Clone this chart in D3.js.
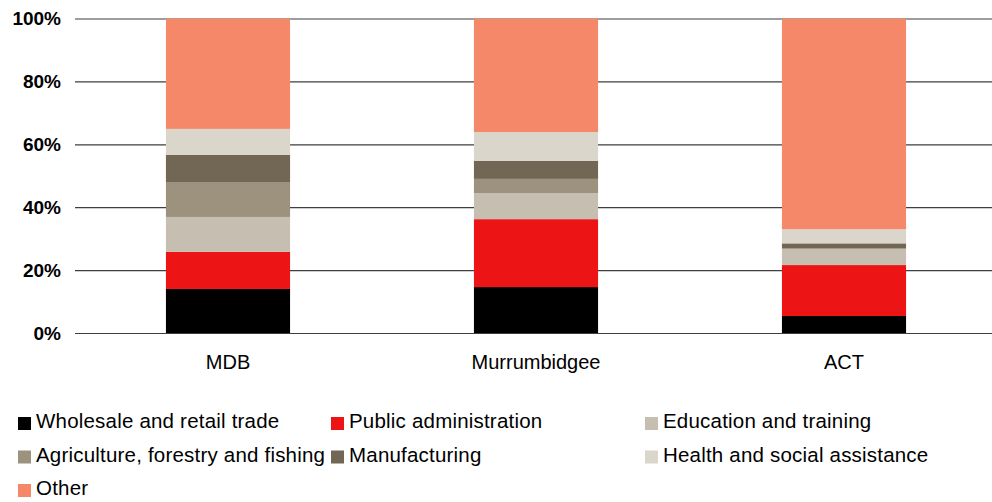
<!DOCTYPE html>
<html>
<head>
<meta charset="utf-8">
<script src="https://cdn.jsdelivr.net/npm/d3@7"></script>
<style>
  html, body { margin: 0; padding: 0; background: #fff; }
  svg { display: block; font-family: "Liberation Sans", Arial, sans-serif; }
</style>
</head>
<body>
<svg id="chart" width="992" height="502"></svg>
<script>
// Regions shown on the x axis
const categories = ["MDB", "Murrumbidgee", "ACT"];

// Industry series, share of employment (%) per region
const seriesNames = [
  "Wholesale and retail trade",
  "Public administration",
  "Education and training",
  "Agriculture, forestry and fishing",
  "Manufacturing",
  "Health and social assistance",
  "Other"
];
const wholesale     = [14.0, 14.6, 5.4];
const publicAdmin   = [11.8, 21.6, 16.2];
const education     = [11.1, 8.3, 5.1];
const agriculture   = [11.1, 4.5, 0.2];
const manufacturing = [8.6, 5.7, 1.6];
const health        = [8.3, 9.2, 4.5];
const other         = [35.1, 36.1, 67.0];

const seriesColors = ["#000000", "#ed1416", "#c5beb1", "#9d927e", "#716754", "#dad6cc", "#f58868"];
const yTicks = [0, 0.2, 0.4, 0.6, 0.8, 1.0];

const seriesValues = [wholesale, publicAdmin, education, agriculture, manufacturing, health, other];
const rows = categories.map((c, i) => {
  const r = { category: c };
  seriesNames.forEach((s, j) => { r[s] = seriesValues[j][i]; });
  return r;
});

const svg = d3.select("#chart");
const plotLeft = 75, plotTop = 18.5, plotBottom = 333;

const x = d3.scaleBand()
  .domain(categories)
  .range([74, 998])
  .paddingInner(0.597)
  .paddingOuter(0.2985);

const y = d3.scaleLinear().domain([0, 1]).range([plotBottom, plotTop]);

const color = d3.scaleOrdinal().domain(seriesNames).range(seriesColors);

// Gridlines and percentage labels
const yAxis = svg.append("g")
  .attr("transform", `translate(${plotLeft},0)`)
  .call(d3.axisLeft(y)
    .tickValues(yTicks)
    .tickSize(-(992 - plotLeft))
    .tickPadding(14)
    .tickFormat(d3.format(".0%")));
yAxis.select(".domain").remove();
yAxis.selectAll(".tick line").attr("stroke", "#3f3f3f").attr("stroke-width", 1.2);
yAxis.selectAll(".tick text")
  .attr("font-size", 19)
  .attr("font-weight", "bold")
  .attr("fill", "#000")
  .attr("font-family", "Liberation Sans, Arial, sans-serif");

// Stacked bars
const stack = d3.stack().keys(seriesNames).offset(d3.stackOffsetExpand);
const layers = stack(rows);

svg.append("g")
  .selectAll("g")
  .data(layers)
  .join("g")
  .attr("fill", d => color(d.key))
  .selectAll("rect")
  .data(d => d)
  .join("rect")
  .attr("x", d => x(d.data.category))
  .attr("width", x.bandwidth())
  .attr("y", d => y(d[1]))
  .attr("height", d => y(d[0]) - y(d[1]));

// Category labels
const xAxis = svg.append("g")
  .attr("transform", `translate(0,${plotBottom})`)
  .call(d3.axisBottom(x).tickSize(0).tickPadding(22));
xAxis.select(".domain").remove();
xAxis.selectAll(".tick text")
  .attr("font-size", 20)
  .attr("fill", "#000")
  .attr("font-family", "Liberation Sans, Arial, sans-serif");

// Legend, three columns
const legendCols = [18, 331, 645];
const legendRows = [428, 461.5, 495];
const legend = svg.append("g");
seriesNames.forEach((name, i) => {
  const cx = legendCols[i % 3];
  const cy = legendRows[Math.floor(i / 3)];
  legend.append("rect")
    .attr("x", cx)
    .attr("y", cy - 11)
    .attr("width", 13)
    .attr("height", 13)
    .attr("fill", color(name));
  legend.append("text")
    .attr("x", cx + 18)
    .attr("y", cy)
    .attr("font-size", 20.5)
    .attr("letter-spacing", 0.2)
    .attr("fill", "#000")
    .text(name);
});
</script>
</body>
</html>
